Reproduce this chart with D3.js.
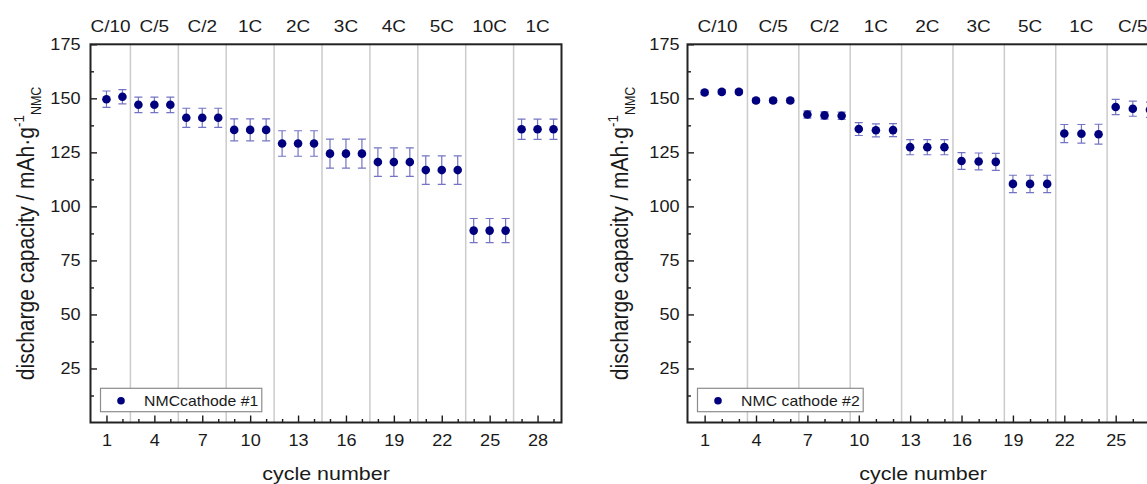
<!DOCTYPE html>
<html>
<head>
<meta charset="utf-8">
<script src="https://cdn.jsdelivr.net/npm/d3@7"></script>
<style>
  html, body { margin: 0; padding: 0; background: #fff; overflow: hidden; }
  svg { display: block; font-family: "Liberation Sans", Arial, Helvetica, sans-serif; }
</style>
</head>
<body>
<svg id="chart" width="1147" height="484"></svg>
<script>
// ---- Cathode #1 ----
const cyclesA = [1, 2, 3, 4, 5, 6, 7, 8, 9, 10, 11, 12, 13, 14, 15, 16, 17, 18, 19, 20, 21, 22, 23, 24, 25, 26, 27, 28, 29];
const capacityA = [149.6, 150.7, 147.0, 147.0, 147.0, 141.0, 141.0, 141.0, 135.4, 135.4, 135.4,
                   129.1, 129.1, 129.1, 124.4, 124.4, 124.4, 120.5, 120.5, 120.5, 116.8, 116.8, 116.8,
                   88.8, 88.8, 88.8, 135.7, 135.7, 135.7];
const errorA = [3.8, 3.3, 3.6, 3.6, 3.6, 4.4, 4.4, 4.4, 5.1, 5.1, 5.1, 5.9, 5.9, 5.9, 6.7, 6.7, 6.7,
                6.6, 6.6, 6.6, 6.6, 6.6, 6.6, 5.6, 5.6, 5.6, 4.7, 4.7, 4.7];
const ratesA = ["C/10", "C/5", "C/2", "1C", "2C", "3C", "4C", "5C", "10C", "1C"];
const rateBoundsA = [0, 2.5, 5.5, 8.5, 11.5, 14.5, 17.5, 20.5, 23.5, 26.5, 29.5];
const majorTicksA = [1, 4, 7, 10, 13, 16, 19, 22, 25, 28];
const minorTicksA = [2, 3, 5, 6, 8, 9, 11, 12, 14, 15, 17, 18, 20, 21, 23, 24, 26, 27, 29];

// ---- Cathode #2 ----
const cyclesB = [1, 2, 3, 4, 5, 6, 7, 8, 9, 10, 11, 12, 13, 14, 15, 16, 17, 18, 19, 20, 21, 22, 23, 24, 25, 26, 27];
const capacityB = [152.7, 153.0, 153.0, 149.0, 149.0, 149.0, 142.5, 142.1, 141.9, 135.8, 135.2, 135.3,
                   127.4, 127.4, 127.4, 121.0, 120.8, 120.6, 110.4, 110.4, 110.4, 133.7, 133.6, 133.4,
                   146.0, 145.2, 144.7];
const errorB = [1.0, 1.0, 1.0, 1.0, 1.0, 1.0, 1.7, 1.7, 1.7, 3.0, 3.0, 3.0, 3.5, 3.5, 3.5,
                3.9, 3.9, 3.9, 4.0, 4.0, 4.0, 4.2, 4.3, 4.6, 3.5, 3.5, 3.5];
const ratesB = ["C/10", "C/5", "C/2", "1C", "2C", "3C", "5C", "1C", "C/5"];
const rateBoundsB = [0, 3.5, 6.5, 9.5, 12.5, 15.5, 18.5, 21.5, 24.5, 27.5];
const majorTicksB = [1, 4, 7, 10, 13, 16, 19, 22, 25];
const minorTicksB = [2, 3, 5, 6, 8, 9, 11, 12, 14, 15, 17, 18, 20, 21, 23, 24, 26, 27];

// ---- Shared y axis ----
const yDomain = [0, 175];
const yTicks = [25, 50, 75, 100, 125, 150, 175];
const yMinorTicks = [12.5, 37.5, 62.5, 87.5, 112.5, 137.5, 162.5];

const SX = 1.13;            // horizontal text stretch of the figure
const INK = "#1a1a1a";
const MARK = "#00007f";
const ERR = "#7474c4";
const PLOT_TOP = 44.3, PLOT_BOTTOM = 422.5, PLOT_W = 471;

const svg = d3.select("#chart");

function drawPanel(p) {
  const x = d3.scaleLinear().domain([0, p.xMax]).range([p.left, p.left + PLOT_W]);
  const y = d3.scaleLinear().domain(yDomain).range([PLOT_BOTTOM, PLOT_TOP]);
  const g = svg.append("g");

  // rate-step separators
  g.selectAll("line.sep").data(p.bounds.slice(1, -1)).join("line")
    .attr("class", "sep")
    .attr("x1", d => x(d)).attr("x2", d => x(d))
    .attr("y1", PLOT_TOP).attr("y2", PLOT_BOTTOM)
    .attr("stroke", "#cbcbcb").attr("stroke-width", 1.5);

  // C-rate labels above the plot
  const segs = p.rates.map((r, i) => ({ r, c: (p.bounds[i] + p.bounds[i + 1]) / 2 }));
  g.selectAll("text.rate").data(segs).join("text")
    .attr("class", "rate")
    .attr("transform", d => `translate(${x(d.c)},32) scale(${SX},1)`)
    .attr("text-anchor", "middle")
    .style("font-size", "16.8px")
    .attr("fill", INK)
    .text(d => d.r);

  // bottom axis: major ticks with labels, minor ticks without
  const gx = g.append("g").attr("transform", `translate(0,${PLOT_BOTTOM})`).style("color", INK)
    .call(d3.axisBottom(x).tickValues(p.major).tickSizeInner(-7).tickSizeOuter(0).tickFormat(d3.format("d")));
  gx.select(".domain").remove();
  gx.selectAll("line").attr("stroke-width", 1.4);
  gx.selectAll("text").attr("y", 23.5).attr("dy", null)
    .attr("transform", `scale(${SX},1)`).style("font-size", "16px").attr("fill", INK).style("font-family", null);
  const gxm = g.append("g").attr("transform", `translate(0,${PLOT_BOTTOM})`).style("color", INK)
    .call(d3.axisBottom(x).tickValues(p.minor).tickSizeInner(-3.5).tickSizeOuter(0).tickFormat(""));
  gxm.select(".domain").remove();
  gxm.selectAll("line").attr("stroke-width", 1.4);

  // left axis
  const gy = g.append("g").attr("transform", `translate(${p.left},0)`).style("color", INK)
    .call(d3.axisLeft(y).tickValues(yTicks).tickSizeInner(-6.5).tickSizeOuter(0).tickPadding(p.gap));
  gy.select(".domain").remove();
  gy.selectAll("line").attr("stroke-width", 1.4);
  gy.selectAll("text").attr("x", -p.gap / SX).attr("transform", `scale(${SX},1)`)
    .style("font-size", "16px").attr("fill", INK).style("font-family", null);
  const gym = g.append("g").attr("transform", `translate(${p.left},0)`).style("color", INK)
    .call(d3.axisLeft(y).tickValues(yMinorTicks).tickSizeInner(-3.5).tickSizeOuter(0).tickFormat(""));
  gym.select(".domain").remove();
  gym.selectAll("line").attr("stroke-width", 1.4);
  svg.selectAll(".tick text").style("font-family", null);
  svg.selectAll("g").attr("font-family", null);

  // plot frame
  g.append("rect")
    .attr("x", p.left).attr("y", PLOT_TOP)
    .attr("width", PLOT_W).attr("height", PLOT_BOTTOM - PLOT_TOP)
    .attr("fill", "none").attr("stroke", "#222").attr("stroke-width", 2);

  // error bars
  const pts = p.cycles.map((c, i) => ({ c, v: p.values[i], e: p.errors[i] }));
  const eb = g.append("g").attr("stroke", ERR).attr("stroke-width", 1.2).attr("fill", "none");
  eb.selectAll("path").data(pts).join("path")
    .attr("d", d => {
      const cx = x(d.c), y0 = y(d.v - d.e), y1 = y(d.v + d.e), w = 4;
      return `M${cx},${y0}V${y1}M${cx - w},${y0}H${cx + w}M${cx - w},${y1}H${cx + w}`;
    });

  // markers
  g.append("g").selectAll("circle").data(pts).join("circle")
    .attr("cx", d => x(d.c)).attr("cy", d => y(d.v)).attr("r", 4.3)
    .attr("fill", MARK);

  // legend
  const lx = p.left + 10, ly = 388.3, lh = 23.4;
  const box = g.append("rect").attr("x", lx).attr("y", ly).attr("height", lh)
    .attr("fill", "#fff").attr("stroke", "#8c8c8c").attr("stroke-width", 1.2);
  g.append("circle").attr("cx", lx + 20.5).attr("cy", ly + 12.4).attr("r", 3.8).attr("fill", MARK);
  const lt = g.append("text")
    .attr("transform", `translate(${lx + 43.6},${ly + 17.8}) scale(${SX},1)`)
    .style("font-size", "14px").attr("fill", INK).text(p.legend);
  box.attr("width", 43.6 + lt.node().getComputedTextLength() * SX + 3.5);

  // axis titles
  g.append("text")
    .attr("transform", `translate(${p.left + PLOT_W / 2},480) scale(${SX},1)`)
    .attr("text-anchor", "middle").style("font-size", "19px").attr("fill", INK)
    .text("cycle number");

  const yt = g.append("text")
    .attr("transform", `translate(${p.titleX},${(PLOT_TOP + PLOT_BOTTOM) / 2}) scale(${SX},1) rotate(-90)`)
    .attr("text-anchor", "middle").style("font-size", "21px").attr("fill", INK);
  yt.append("tspan").text("discharge capacity / mAh\u00b7g");
  yt.append("tspan").attr("dy", -9).style("font-size", "13.5px").text("-1");
  yt.append("tspan").attr("dy", 15).style("font-size", "12.5px").text("NMC");
}

drawPanel({
  left: 90.5, xMax: 29.5, gap: 10, titleX: 34,
  cycles: cyclesA, values: capacityA, errors: errorA,
  rates: ratesA, bounds: rateBoundsA, major: majorTicksA, minor: minorTicksA,
  legend: "NMCcathode #1"
});

drawPanel({
  left: 687.5, xMax: 27.5, gap: 8, titleX: 628,
  cycles: cyclesB, values: capacityB, errors: errorB,
  rates: ratesB, bounds: rateBoundsB, major: majorTicksB, minor: minorTicksB,
  legend: "NMC cathode #2"
});
</script>
</body>
</html>
